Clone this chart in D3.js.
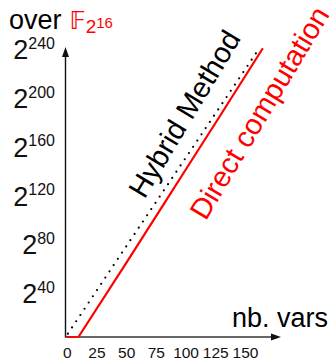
<!DOCTYPE html>
<html><head><meta charset="utf-8">
<script src="https://cdn.jsdelivr.net/npm/d3@7"></script>
<style>
body{margin:0;background:#fff}
svg text{font-family:"Liberation Sans",Arial,Helvetica,sans-serif}
</style>
</head><body><svg id="c" width="336" height="360"></svg>
<script>
const xTicks=[0,25,50,75,100,125,150];
const yTicks=[40,80,120,160,200,240];
const directX=[0,10,50,83,101,130,165];
const directY=[0,0.2,60.5,111,138.5,182.8,236.7];
const hybridX=[1,40,80,120,160];
const hybridY=[2.7,59.7,117.7,175.7,233.7];

const svg=d3.select("#c");
const x=d3.scaleLinear().domain([0,150]).range([66.7,245]);
const y=d3.scaleLinear().domain([0,240]).range([337,44.2]);
const x0=65.5, yb=337;

// axes lines with arrows
svg.append("line").attr("x1",x0).attr("x2",x0).attr("y1",yb+0.5).attr("y2",56)
  .attr("stroke","#111").attr("stroke-width",1.4);
svg.append("path").attr("d",`M${x0},47L${x0-3.5},57L${x0+3.5},57Z`).attr("fill","#111");
svg.append("line").attr("x1",x0).attr("x2",272).attr("y1",yb).attr("y2",yb)
  .attr("stroke","#333").attr("stroke-width",1.4);
svg.append("path").attr("d",`M281,${yb}L271,${yb-3.5}L271,${yb+3.5}Z`).attr("fill","#111");

// x tick labels
const xa=svg.append("g").attr("transform",`translate(0,${yb})`)
  .call(d3.axisBottom(x).tickValues(xTicks).tickSize(0).tickPadding(9.5));
xa.select(".domain").remove();
xa.selectAll("text").attr("font-size",15.5).attr("fill","#111")
  .attr("font-family","'Liberation Sans',Arial,sans-serif");

// y tick labels
const yl=svg.append("g").selectAll("text").data(yTicks).join("text")
  .attr("x",55).attr("y",d=>y(d)+15).attr("text-anchor","end").attr("fill","#111");
yl.append("tspan").attr("font-size",27).text("2");
yl.append("tspan").attr("font-size",16).attr("dy",-10.5).text(d=>d);

// lines
const lineGen=d3.line().x(d=>x(d[0])).y(d=>y(d[1]));
svg.append("path").datum(hybridX.map((v,i)=>[v,hybridY[i]])).attr("d",lineGen)
  .attr("fill","none").attr("stroke","#000").attr("stroke-width",2.2)
  .attr("stroke-linecap","round").attr("stroke-dasharray","0,7.5");
svg.append("path").datum(directX.map((v,i)=>[v,directY[i]])).attr("d",lineGen)
  .attr("fill","none").attr("stroke","#ff0000").attr("stroke-width",2.2);

// labels
svg.append("text").attr("x",232).attr("y",327).attr("font-size",27).attr("fill","#000").text("nb. vars");
const t=svg.append("text").attr("x",9).attr("y",29.3).attr("font-size",27).attr("fill","#000");
t.append("tspan").text("over");
t.append("tspan").attr("fill","#ff0000").attr("font-family","'DejaVu Sans',sans-serif").attr("font-size",24).attr("dx",8).text("\u{1D53D}");
t.append("tspan").attr("fill","#ff0000").attr("font-size",19).attr("dy",4).text("2");
t.append("tspan").attr("fill","#ff0000").attr("font-size",15).attr("dy",-5.5).text("16");

svg.append("text").attr("transform","translate(193,119) rotate(-59)").attr("text-anchor","middle")
  .attr("font-size",29).attr("fill","#000").text("Hybrid Method");
svg.append("text").attr("transform","translate(268,118) rotate(-59)").attr("text-anchor","middle")
  .attr("font-size",29).attr("fill","#ff0000").text("Direct computation");
</script></body></html>
